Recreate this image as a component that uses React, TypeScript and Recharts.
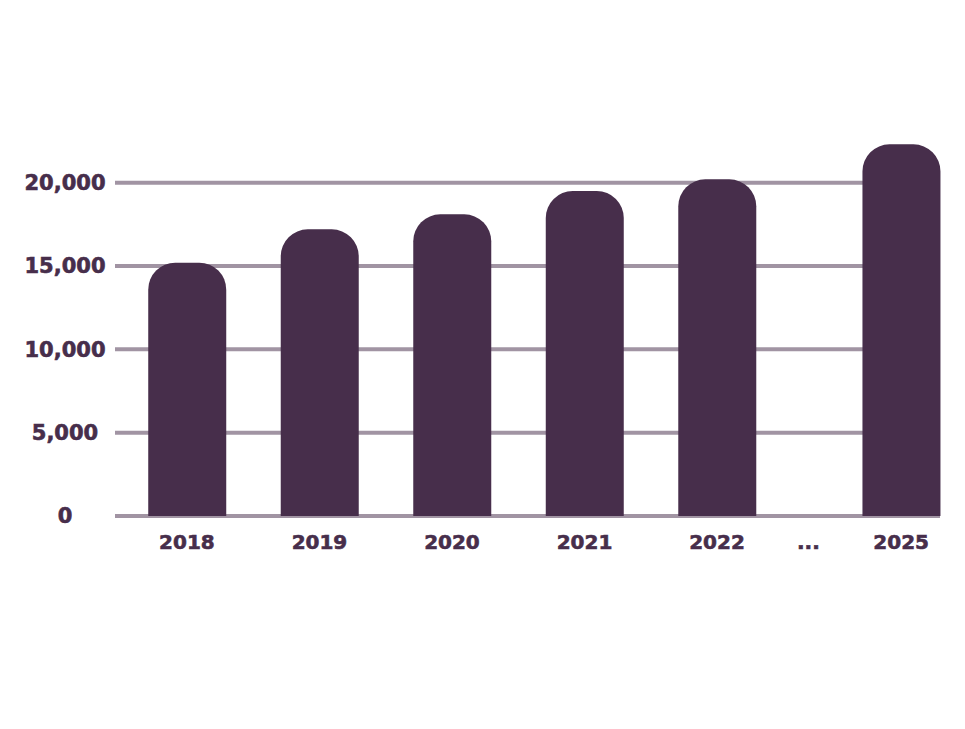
import { BarChart, Bar, XAxis, YAxis, CartesianGrid } from 'recharts';

const years = ['2018', '2019', '2020', '2021', '2022', '...', '2025'];
const xPos = [0, 1, 2, 3, 4, 4.69, 5.39];
const values: (number | null)[] = [15200, 17200, 18100, 19500, 20200, null, 22300];
const yTicks = [0, 5000, 10000, 15000, 20000];

const data = years.map((y, i) => ({ year: y, x: xPos[i], value: values[i] }));

const INK = '#472e4b';
const GRID = '#a194a3';
const FAMILY = '"DejaVu Sans", sans-serif';
const xFont = { fill: INK, stroke: INK, strokeWidth: 0.6, fontSize: 20, fontWeight: 700, fontFamily: FAMILY };

const YTick = ({ y, payload }: any) => (
  <text
    x={65}
    y={y}
    dy="0.355em"
    textAnchor="middle"
    fill={INK}
    stroke={INK}
    strokeWidth={0.6}
    fontSize={21}
    fontWeight={700}
    fontFamily={FAMILY}
  >
    {Number(payload.value).toLocaleString('en-US')}
  </text>
);

export default function App() {
  return (
    <div style={{ position: 'absolute', left: 0, top: 0, width: 965, height: 729, background: '#fff' }}>
      <BarChart width={965} height={729} data={data} margin={{ top: 116, right: 25, bottom: 173, left: 0 }}>
        <CartesianGrid vertical={false} stroke={GRID} strokeWidth={4} horizontalValues={yTicks} />
        <XAxis
          dataKey="x"
          type="number"
          domain={[-0.543, 5.683]}
          ticks={xPos}
          tickFormatter={(v: number) => years[xPos.indexOf(v)] ?? ''}
          axisLine={false}
          tickLine={false}
          tickSize={0}
          tickMargin={19}
          height={40}
          tick={xFont}
          interval={0}
        />
        <YAxis
          domain={[0, 24000]}
          ticks={yTicks}
          axisLine={false}
          tickLine={false}
          tickSize={0}
          width={115}
          tick={<YTick />}
          interval={0}
        />
        <Bar dataKey="value" fill={INK} barSize={78} radius={[27, 27, 0, 0]} isAnimationActive={false} />
      </BarChart>
    </div>
  );
}
